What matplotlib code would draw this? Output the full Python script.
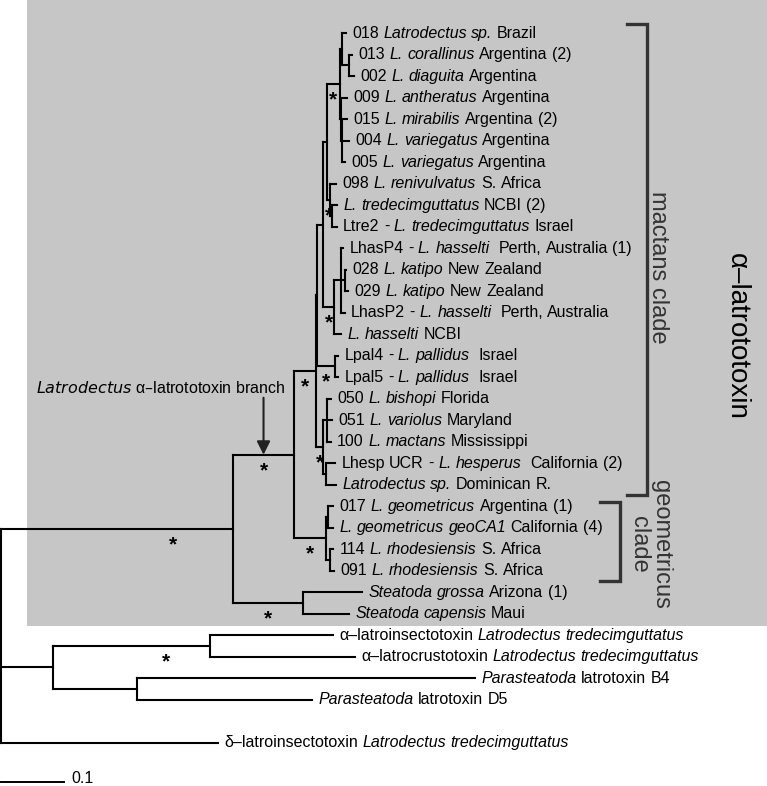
import matplotlib.pyplot as plt
from matplotlib.offsetbox import TextArea, HPacker, AnnotationBbox

plt.rcParams['font.family'] = ['Liberation Sans', 'DejaVu Sans']

# leaf labels, |...| = italic part
leaf_labels = [
    "018 |Latrodectus sp.| Brazil",
    "013 |L. corallinus| Argentina (2)",
    "002 |L. diaguita| Argentina",
    "009 |L. antheratus| Argentina",
    "015 |L. mirabilis| Argentina (2)",
    "004 |L. variegatus| Argentina",
    "005 |L. variegatus| Argentina",
    "098 |L. renivulvatus| S. Africa",
    "|L. tredecimguttatus| NCBI (2)",
    "Ltre2 - |L. tredecimguttatus| Israel",
    "LhasP4 - |L. hasselti|  Perth, Australia (1)",
    "028 |L. katipo| New Zealand",
    "029 |L. katipo| New Zealand",
    "LhasP2 - |L. hasselti|  Perth, Australia",
    "|L. hasselti| NCBI",
    "Lpal4 - |L. pallidus|  Israel",
    "Lpal5 - |L. pallidus|  Israel",
    "050 |L. bishopi| Florida",
    "051 |L. variolus| Maryland",
    "100 |L. mactans| Mississippi",
    "Lhesp UCR - |L. hesperus|  California (2)",
    "|Latrodectus sp.| Dominican R.",
    "017 |L. geometricus| Argentina (1)",
    "|L. geometricus geoCA1| California (4)",
    "114 |L. rhodesiensis| S. Africa",
    "091 |L. rhodesiensis| S. Africa",
    "|Steatoda grossa| Arizona (1)",
    "|Steatoda capensis| Maui",
    "\u03b1\u2013latroinsectotoxin |Latrodectus tredecimguttatus|",
    "\u03b1\u2013latrocrustotoxin |Latrodectus tredecimguttatus|",
    "|Parasteatoda| latrotoxin B4",
    "|Parasteatoda| latrotoxin D5",
    "\u03b4\u2013latroinsectotoxin |Latrodectus tredecimguttatus|",
]
leaf_rows = list(range(32)) + [33]
leaf_parent = ['arg_a', 'arg_b', 'arg_b', 'arg_c', 'arg_d', 'arg_d', 'arg_d',
               'tre', 'tre_b', 'tre_b', 'hass_a', 'kat', 'kat', 'hass_a', 'hass',
               'lpal', 'lpal', 'bish_a', 'bish_a', 'bish_a', 'bish_b', 'bish_b',
               'geo_a', 'geo_a', 'geo_b', 'geo_b', 'stea', 'stea',
               'insect', 'insect', 'para', 'para', 'root']
leaf_len = [0.0063, 0.0048, 0.0079, 0.0095, 0.0079, 0.0111, 0.0048,
            0.0095, 0.0079, 0.0079, 0.0032, 0.0016, 0.0048, 0.0063, 0.0111,
            0.0048, 0.0048, 0.0063, 0.0079, 0.0063, 0.0143, 0.0159,
            0.0079, 0.0079, 0.0048, 0.0063, 0.0937, 0.0730,
            0.1952, 0.2302, 0.5365, 0.2778, 0.3444]

# internal nodes
node_names = ['root', 'alpha', 'lower', 'insect', 'para', 'stea', 'latro',
              'geo', 'geo_a', 'geo_b', 'mac', 'mac2', 'bish', 'bish_a', 'bish_b',
              'lpal', 'n1', 'hass', 'hass_a', 'kat', 'n2', 'arg', 'arg_a', 'arg_b',
              'arg_c', 'arg_d', 'tre', 'tre_b']
node_parent = [None, 'root', 'root', 'lower', 'lower', 'alpha', 'alpha',
               'latro', 'geo', 'geo', 'latro', 'mac', 'mac', 'bish', 'bish',
               'mac2', 'mac2', 'n1', 'hass', 'hass_a', 'n1', 'n2', 'arg', 'arg_a',
               'arg', 'arg_c', 'n2', 'tre']
node_len = [0.0, 0.3683, 0.0825, 0.2492, 0.1333, 0.1111, 0.0968,
            0.0508, 0.0032, 0.0063, 0.0349, 0.0016, 0.0111, 0.0063, 0.0048,
            0.0286, 0.0095, 0.0175, 0.0111, 0.0063, 0.0063, 0.0206, 0.0032, 0.0111,
            0.0016, 0.0016, 0.0048, 0.0032]

# supported nodes (asterisks) and where the star sits along the branch
star_nodes = ['alpha', 'insect', 'stea', 'latro', 'geo', 'mac', 'lpal', 'bish',
              'hass', 'tre', 'arg']
star_frac = [0.74, 0.72, 0.5, 0.5, 0.5, 0.5, 0.5, 0.5, 0.5, 0.5, 0.5]

FS = 11.5

# ---- build tree ----
parent = {}
blen = {}
children = {n: [] for n in node_names}
for n, p, b in zip(node_names, node_parent, node_len):
    parent[n] = p
    blen[n] = b
    if p is not None:
        children[p].append(n)
for i, (p, b) in enumerate(zip(leaf_parent, leaf_len)):
    key = 'leaf%d' % i
    parent[key] = p
    blen[key] = b
    children[p].append(key)

depth = {}
def set_depth(n, d):
    depth[n] = d
    for c in children.get(n, []):
        set_depth(c, d + blen[c])
set_depth('root', 0.0)

ypos = {}
def set_y(n):
    if n.startswith('leaf'):
        ypos[n] = leaf_rows[int(n[4:])]
        return ypos[n]
    ys = [set_y(c) for c in children[n]]
    ypos[n] = (min(ys) + max(ys)) / 2
    return ypos[n]
set_y('root')

# ---- figure ----
fig = plt.figure(figsize=(7.67, 7.86), dpi=100)
ax = fig.add_axes([0, 0, 1, 1])
ax.set_xlim(-0.0016, 1.2159)
ax.set_ylim(35.02, -1.535)
ax.axis('off')

# grey box behind the alpha-latrotoxin clade
ax.fill_between([0.0413, 1.2159], -1.535, 27.58, color='#c6c6c6', lw=0, zorder=0)

lw = 1.5
for n in parent:
    p = parent[n]
    if p is None:
        continue
    ax.plot([depth[p], depth[n]], [ypos[n], ypos[n]], color='black', lw=lw,
            solid_capstyle='projecting', zorder=2)
for n in node_names:
    ys = [ypos[c] for c in children[n]]
    ax.plot([depth[n], depth[n]], [min(ys), max(ys)], color='black', lw=lw,
            solid_capstyle='projecting', zorder=2)

def label_box(s):
    kids = []
    for i, part in enumerate(s.split('|')):
        toks = part.split(' ')
        # one leading/trailing space is the normal word gap, extra ones widen it
        if toks and toks[0] == '':
            toks = toks[1:]
        if toks and toks[-1] == '':
            toks = toks[:-1]
        for w in toks:
            kids.append(TextArea(w, textprops=dict(
                fontsize=FS, color='black',
                style='italic' if i % 2 else 'normal')))
    return HPacker(children=kids, align='baseline', pad=0, sep=FS * 0.278)

for i, lab in enumerate(leaf_labels):
    key = 'leaf%d' % i
    ab = AnnotationBbox(label_box(lab), (depth[key], ypos[key]),
                        xybox=(4.5, 0), boxcoords='offset points',
                        box_alignment=(0, 0.5), frameon=False, pad=0)
    ax.add_artist(ab)

for n, f in zip(star_nodes, star_frac):
    x = depth[parent[n]] + f * blen[n]
    ax.text(x, ypos[n] + 1.0, '*', fontsize=15, fontweight='bold',
            ha='center', va='baseline')

# arrow pointing at the Latrodectus branch
arr_x = depth['alpha'] + 0.5 * blen['latro']
ax.annotate('', xy=(arr_x, ypos['latro']), xytext=(arr_x, ypos['latro'] - 2.65),
            arrowprops=dict(arrowstyle='-|>', color='#222222', lw=1.5,
                            mutation_scale=20, shrinkA=0, shrinkB=0))
ax.text(0.4508, ypos['latro'] - 3.1, '$\\it{Latrodectus}$ \u03b1\u2013latrototoxin branch',
        fontsize=FS, ha='right', va='center')

# clade brackets
def bracket(x, y0, y1, w=0.0317):
    ax.plot([x - w, x, x, x - w], [y0, y0, y1, y1], color='#333333', lw=2.4,
            solid_joinstyle='miter', zorder=3)

bracket(1.0254, -0.4, 21.5)
bracket(0.9825, 21.8, 25.5)
ax.text(1.043, 10.9, 'mactans clade', rotation=270, fontsize=17,
        ha='center', va='center', color='#333333')
ax.text(1.030, 23.8, 'geometricus\nclade', rotation=270, fontsize=17,
        ha='center', va='center', linespacing=1.0, color='#333333')
ax.text(1.168, 14.1, '\u03b1\u2013latrototoxin', rotation=270, fontsize=20,
        ha='center', va='center', color='black')

# scale bar
ax.plot([0.0, 0.1], [34.85, 34.85], color='black', lw=1.4)
ax.text(0.112, 34.65, '0.1', fontsize=FS, ha='left', va='center')

fig.savefig('out.png', dpi=100)
